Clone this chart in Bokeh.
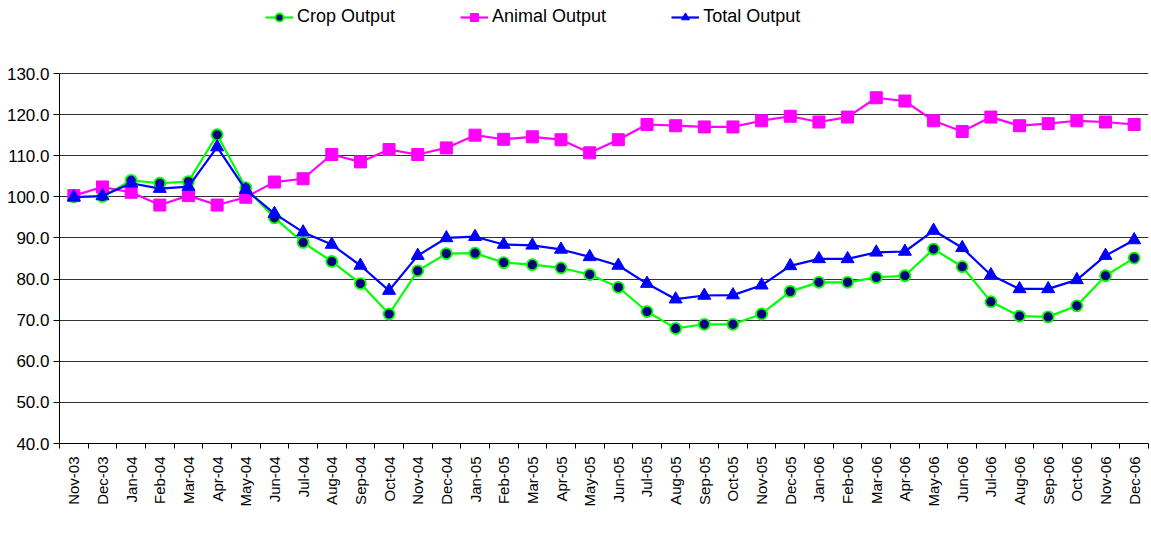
import math
from bokeh.plotting import figure
from bokeh.models import (Range1d, FixedTicker, NumeralTickFormatter, Legend, LegendItem)
from bokeh.embed import file_html
from bokeh.resources import INLINE

months = ["Nov-03", "Dec-03",
          "Jan-04", "Feb-04", "Mar-04", "Apr-04", "May-04", "Jun-04",
          "Jul-04", "Aug-04", "Sep-04", "Oct-04", "Nov-04", "Dec-04",
          "Jan-05", "Feb-05", "Mar-05", "Apr-05", "May-05", "Jun-05",
          "Jul-05", "Aug-05", "Sep-05", "Oct-05", "Nov-05", "Dec-05",
          "Jan-06", "Feb-06", "Mar-06", "Apr-06", "May-06", "Jun-06",
          "Jul-06", "Aug-06", "Sep-06", "Oct-06", "Nov-06", "Dec-06"]

crop_output = [100.0, 100.1, 104.0, 103.3, 103.7, 115.1, 102.2, 94.9, 88.9, 84.3,
               78.9, 71.5, 82.0, 86.2, 86.3, 84.0, 83.5, 82.7, 81.1, 78.0,
               72.1, 68.0, 69.0, 69.0, 71.5, 77.0, 79.2, 79.2, 80.4, 80.8,
               87.3, 83.0, 74.5, 71.0, 70.8, 73.5, 80.8, 85.1]

animal_output = [100.3, 102.4, 101.1, 98.0, 100.3, 98.0, 99.9, 103.6, 104.4, 110.3,
                 108.5, 111.5, 110.3, 111.9, 115.0, 114.0, 114.6, 113.9, 110.7, 113.9,
                 117.6, 117.3, 117.0, 117.0, 118.5, 119.6, 118.2, 119.4, 124.1, 123.3,
                 118.5, 115.9, 119.4, 117.3, 117.8, 118.5, 118.2, 117.6]

total_output = [99.9, 100.2, 103.3, 102.0, 102.5, 112.1, 101.7, 95.9, 91.4, 88.4,
                83.3, 77.2, 85.7, 90.0, 90.3, 88.4, 88.2, 87.2, 85.4, 83.3,
                78.9, 75.1, 76.0, 76.1, 78.5, 83.2, 84.9, 84.9, 86.5, 86.7,
                91.8, 87.6, 81.0, 77.6, 77.6, 79.8, 85.7, 89.5]

y_ticks = [40, 50, 60, 70, 80, 90, 100, 110, 120, 130]

FONT = "'Liberation Sans', Arial, sans-serif"

xs = [i + 0.5 for i in range(len(months))]

# frame: 130 at y=73, 40 at y=443 -> extend range upward to hold the legend
TOP = 5
px_per_unit = (443 - 73) / 90.0
y_end = 130 + (73 - TOP) / px_per_unit

p = figure(width=1150, height=530, output_backend="svg", toolbar_location=None,
           x_range=Range1d(0, len(months)), y_range=Range1d(40, y_end),
           min_border_left=59, min_border_right=2, min_border_top=TOP, min_border_bottom=87)

p.outline_line_color = None
p.background_fill_color = "white"
p.border_fill_color = "white"

# x axis
p.xaxis.ticker = FixedTicker(ticks=xs, minor_ticks=list(range(len(months) + 1)))
p.xaxis.major_label_overrides = {x: m for x, m in zip(xs, months)}
p.xaxis.major_label_orientation = math.pi / 2
p.xaxis.major_tick_out = 0
p.xaxis.major_tick_in = 0
p.xaxis.minor_tick_out = 5
p.xaxis.minor_tick_in = 0
p.xaxis.minor_tick_line_color = "black"
p.xaxis.axis_line_color = "black"
p.xaxis.major_label_text_font = FONT
p.xaxis.major_label_text_font_size = "15px"
p.xaxis.major_label_text_color = "black"
p.xaxis.major_label_standoff = 8
p.xgrid.visible = False

# y axis
p.yaxis.ticker = FixedTicker(ticks=y_ticks)
p.yaxis.bounds = (40, 130)
p.yaxis.formatter = NumeralTickFormatter(format="0.0")
p.yaxis.major_tick_out = 6
p.yaxis.major_tick_in = 0
p.yaxis.minor_tick_line_color = None
p.yaxis.axis_line_color = "black"
p.yaxis.major_label_text_font = FONT
p.yaxis.major_label_text_font_size = "17px"
p.yaxis.major_label_text_color = "black"
p.yaxis.major_label_standoff = 4
p.ygrid.ticker = FixedTicker(ticks=y_ticks)
p.ygrid.grid_line_color = "#333333"
p.ygrid.grid_line_width = 1

# series
cl = p.line(xs, crop_output, line_color="#00FF00", line_width=2.2)
cm = p.scatter(xs, crop_output, marker="circle", size=11, fill_color="#000080",
               line_color="#00FF00", line_width=1.8)
al = p.line(xs, animal_output, line_color="#FF00FF", line_width=2.2)
am = p.scatter(xs, animal_output, marker="square", size=12, fill_color="#FF00FF",
               line_color="#FF00FF")
tl = p.line(xs, total_output, line_color="#0000FF", line_width=2.2)
tm = p.scatter(xs, total_output, marker="triangle", size=13, fill_color="#0000FF",
               line_color="#0000FF")

legend = Legend(items=[
    LegendItem(label="Crop Output", renderers=[cl, cm]),
    LegendItem(label="Animal Output", renderers=[al, am]),
    LegendItem(label="Total Output", renderers=[tl, tm]),
], location=(206, 416), orientation="horizontal")
legend.border_line_color = None
legend.background_fill_alpha = 0
legend.padding = 0
legend.margin = 0
legend.spacing = 65
legend.glyph_width = 28
legend.glyph_height = 20
legend.label_standoff = 4
legend.label_text_font = FONT
legend.label_text_font_size = "18px"
legend.label_text_color = "black"
p.add_layout(legend, "center")

open("out.html", "w").write(file_html(p, INLINE))
